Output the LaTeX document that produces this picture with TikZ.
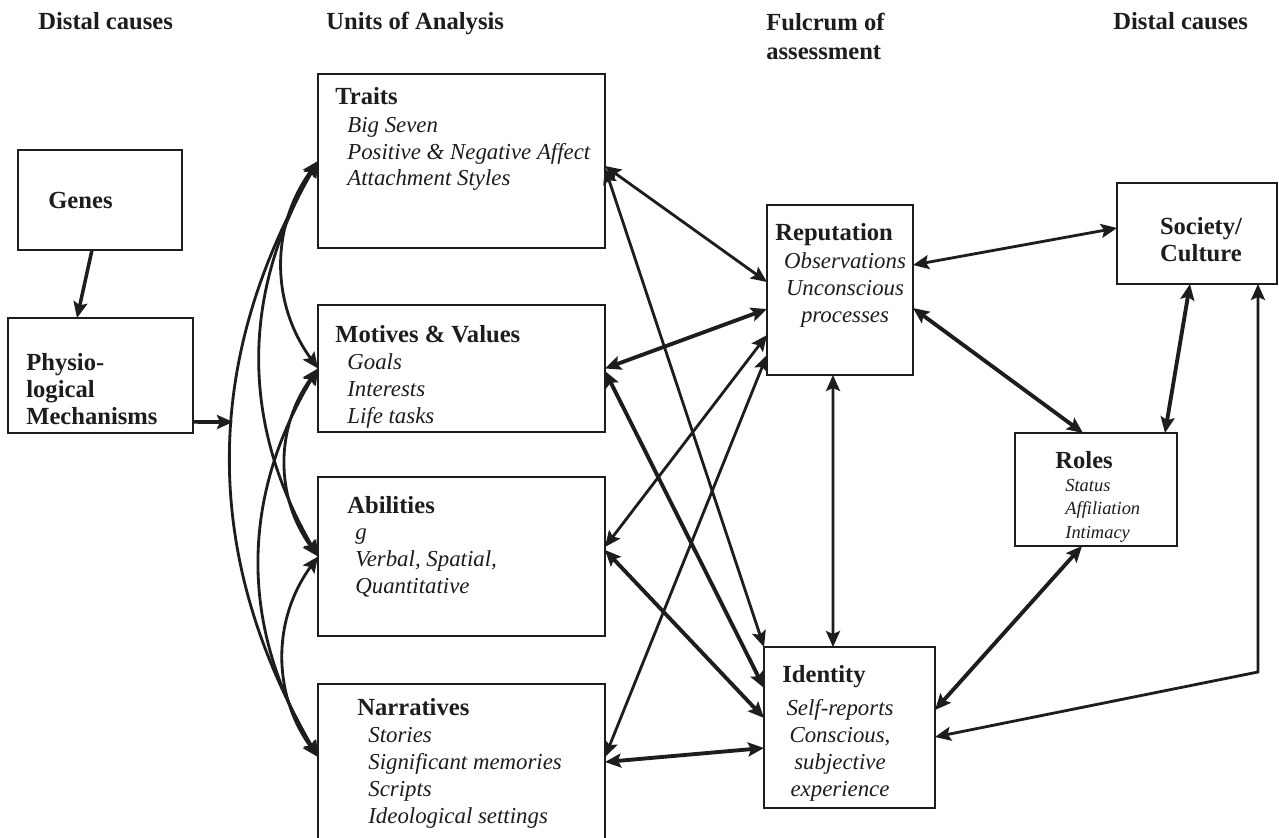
\documentclass[tikz,border=0pt]{standalone}
\usepackage{fontspec}
\setmainfont{Liberation Serif}
\usetikzlibrary{arrows.meta}
\definecolor{Ink}{HTML}{1E1C1C}
\tikzset{
  unit/.style={draw=Ink,line width=1.1pt,inner sep=0pt,outer sep=0pt},
  title/.style={anchor=base west,inner sep=0pt,align=left,font=\fontsize{14}{15.3}\selectfont\bfseries,text=Ink},
  items/.style={anchor=base west,inner sep=0pt,align=left,font=\fontsize{13}{15.3}\selectfont\itshape,text=Ink},
  link/.style={{Stealth[length=3.2mm,width=2.8mm,inset=0.6mm]}-{Stealth[length=3.2mm,width=2.8mm,inset=0.6mm]},draw=Ink,line width=1.6pt},
  heavylink/.style={link,line width=2.2pt},
  oneway/.style={-{Stealth[length=3.2mm,width=2.8mm,inset=0.6mm]},draw=Ink,line width=2pt}
}
\begin{document}
\begin{tikzpicture}[x=0.02cm,y=-0.02cm]
  \useasboundingbox[fill=white] (0,0) rectangle (1279,838);
  % column heads (multi-line texts sit on their last line)
  \node[title] (hdA) at (38,30) {Distal causes};
  \node[title] (hdB) at (326,30) {Units of Analysis};
  \node[title,font=\fontsize{14}{17}\selectfont\bfseries] (hdC) at (766,60) {Fulcrum of\\assessment};
  \node[title] (hdD) at (1113,30) {Distal causes};
  % distal causes, left
  \node[unit,minimum width=3.28cm,minimum height=2cm] (genes) at (100,200) {};
  \node[title] (genesT) at (48,209) {Genes};
  \node[unit,minimum width=3.7cm,minimum height=2.3cm] (physio) at (100.5,375.5) {};
  \node[title] (physioT) at (26,424) {Physio-\\logical\\Mechanisms};
  % units of analysis
  \node[unit,minimum width=5.74cm,minimum height=3.48cm] (traits) at (461.5,161) {};
  \node[title] (traitsT) at (335,105) {Traits};
  \node[items] (traitsL) at (347,186) {Big Seven\\Positive \& Negative Affect\\Attachment Styles};
  \node[unit,minimum width=5.74cm,minimum height=2.54cm] (motives) at (461.5,368.5) {};
  \node[title] (motivesT) at (335,342) {Motives \& Values};
  \node[items] (motivesL) at (347,423) {Goals\\Interests\\Life tasks};
  \node[unit,minimum width=5.74cm,minimum height=3.18cm] (abilities) at (461.5,556.5) {};
  \node[title] (abilitiesT) at (347,513) {Abilities};
  \node[items] (abilitiesL) at (355,593) {g\\Verbal, Spatial,\\Quantitative};
  \node[unit,minimum width=5.74cm,minimum height=3.52cm] (narratives) at (461.5,772) {};
  \node[title] (narrativesT) at (357,715) {Narratives};
  \node[items] (narrativesL) at (368,823) {Stories\\Significant memories\\Scripts\\Ideological settings};
  % fulcrum of assessment
  \node[unit,minimum width=2.92cm,minimum height=3.4cm] (reputation) at (840,290) {};
  \node[title] (reputationT) at (775,240) {Reputation};
  \node[items,align=center,anchor=base] (reputationL) at (845,322) {Observations\\Unconscious\\processes};
  \node[unit,minimum width=3.42cm,minimum height=3.22cm] (identity) at (849.5,727.5) {};
  \node[title] (identityT) at (782,682) {Identity};
  \node[items,align=center,anchor=base] (identityL) at (840,796) {Self-reports\\Conscious,\\subjective\\experience};
  % distal causes, right
  \node[unit,minimum width=3.2cm,minimum height=2.02cm] (society) at (1197,233.5) {};
  \node[title,align=center,anchor=base] (societyT) at (1201,261) {Society/\\Culture};
  \node[unit,minimum width=3.24cm,minimum height=2.26cm] (roles) at (1096,489.5) {};
  \node[title] (rolesT) at (1055,468) {Roles};
  \node[items,font=\fontsize{10.5}{13.2}\selectfont\itshape] (rolesL) at (1065,538) {Status\\Affiliation\\Intimacy};
  % left side
  \coordinate (hub) at (233,422);
  \draw[oneway] ([xshift=-0.16cm]genes.south) -- ([xshift=-0.47cm]physio.north);
  \draw[oneway] ([yshift=-0.93cm]physio.east) -- (hub);
  \draw[link] (traits.west) to[bend right=36] (motives.west);
  \draw[link] (traits.west) to[bend right=30] (abilities.west);
  \draw[link] (traits.west) to[bend right=30] ([yshift=0.3cm]narratives.west);
  \draw[link] (motives.west) to[bend right=36] (abilities.west);
  \draw[link] (motives.west) to[bend right=31] ([yshift=0.3cm]narratives.west);
  \draw[link] (abilities.west) to[bend right=36] ([yshift=0.3cm]narratives.west);
  % units to fulcrum
  \draw[link] ([yshift=-0.1cm]traits.east) -- ([yshift=0.16cm]reputation.west);
  \draw[link] ([yshift=-0.14cm]traits.east) -- (identity.north west);
  \draw[heavylink] (motives.east) -- ([yshift=-0.38cm]reputation.west);
  \draw[heavylink] ([yshift=-0.05cm]motives.east) -- ([yshift=0.79cm]identity.west);
  \draw[link] ([yshift=0.19cm]abilities.east) -- ([yshift=-0.9cm]reputation.west);
  \draw[heavylink] ([yshift=0.13cm]abilities.east) -- ([yshift=0.19cm]identity.west);
  \draw[link] ([yshift=0.3cm]narratives.east) -- ([yshift=-1.3cm]reputation.west);
  \draw[heavylink] ([yshift=0.2cm]narratives.east) -- ([yshift=-0.41cm]identity.west);
  % fulcrum and right side
  \draw[link] ([xshift=-0.14cm]reputation.south) -- ([xshift=-0.33cm]identity.north);
  \draw[link] ([yshift=0.5cm]reputation.east) -- ([yshift=0.11cm]society.west);
  \draw[heavylink] ([yshift=-0.36cm]reputation.east) -- ([xshift=-0.26cm]roles.north);
  \draw[heavylink] ([xshift=-0.14cm]society.south) -- ([xshift=1.38cm]roles.north);
  \draw[heavylink] ([xshift=-0.28cm]roles.south) -- ([yshift=0.35cm]identity.east);
  \coordinate (elbow) at (1258,672);
  \draw[link] ([xshift=1.22cm]society.south) -- (elbow) -- ([yshift=-0.19cm]identity.east);
\end{tikzpicture}
\end{document}
